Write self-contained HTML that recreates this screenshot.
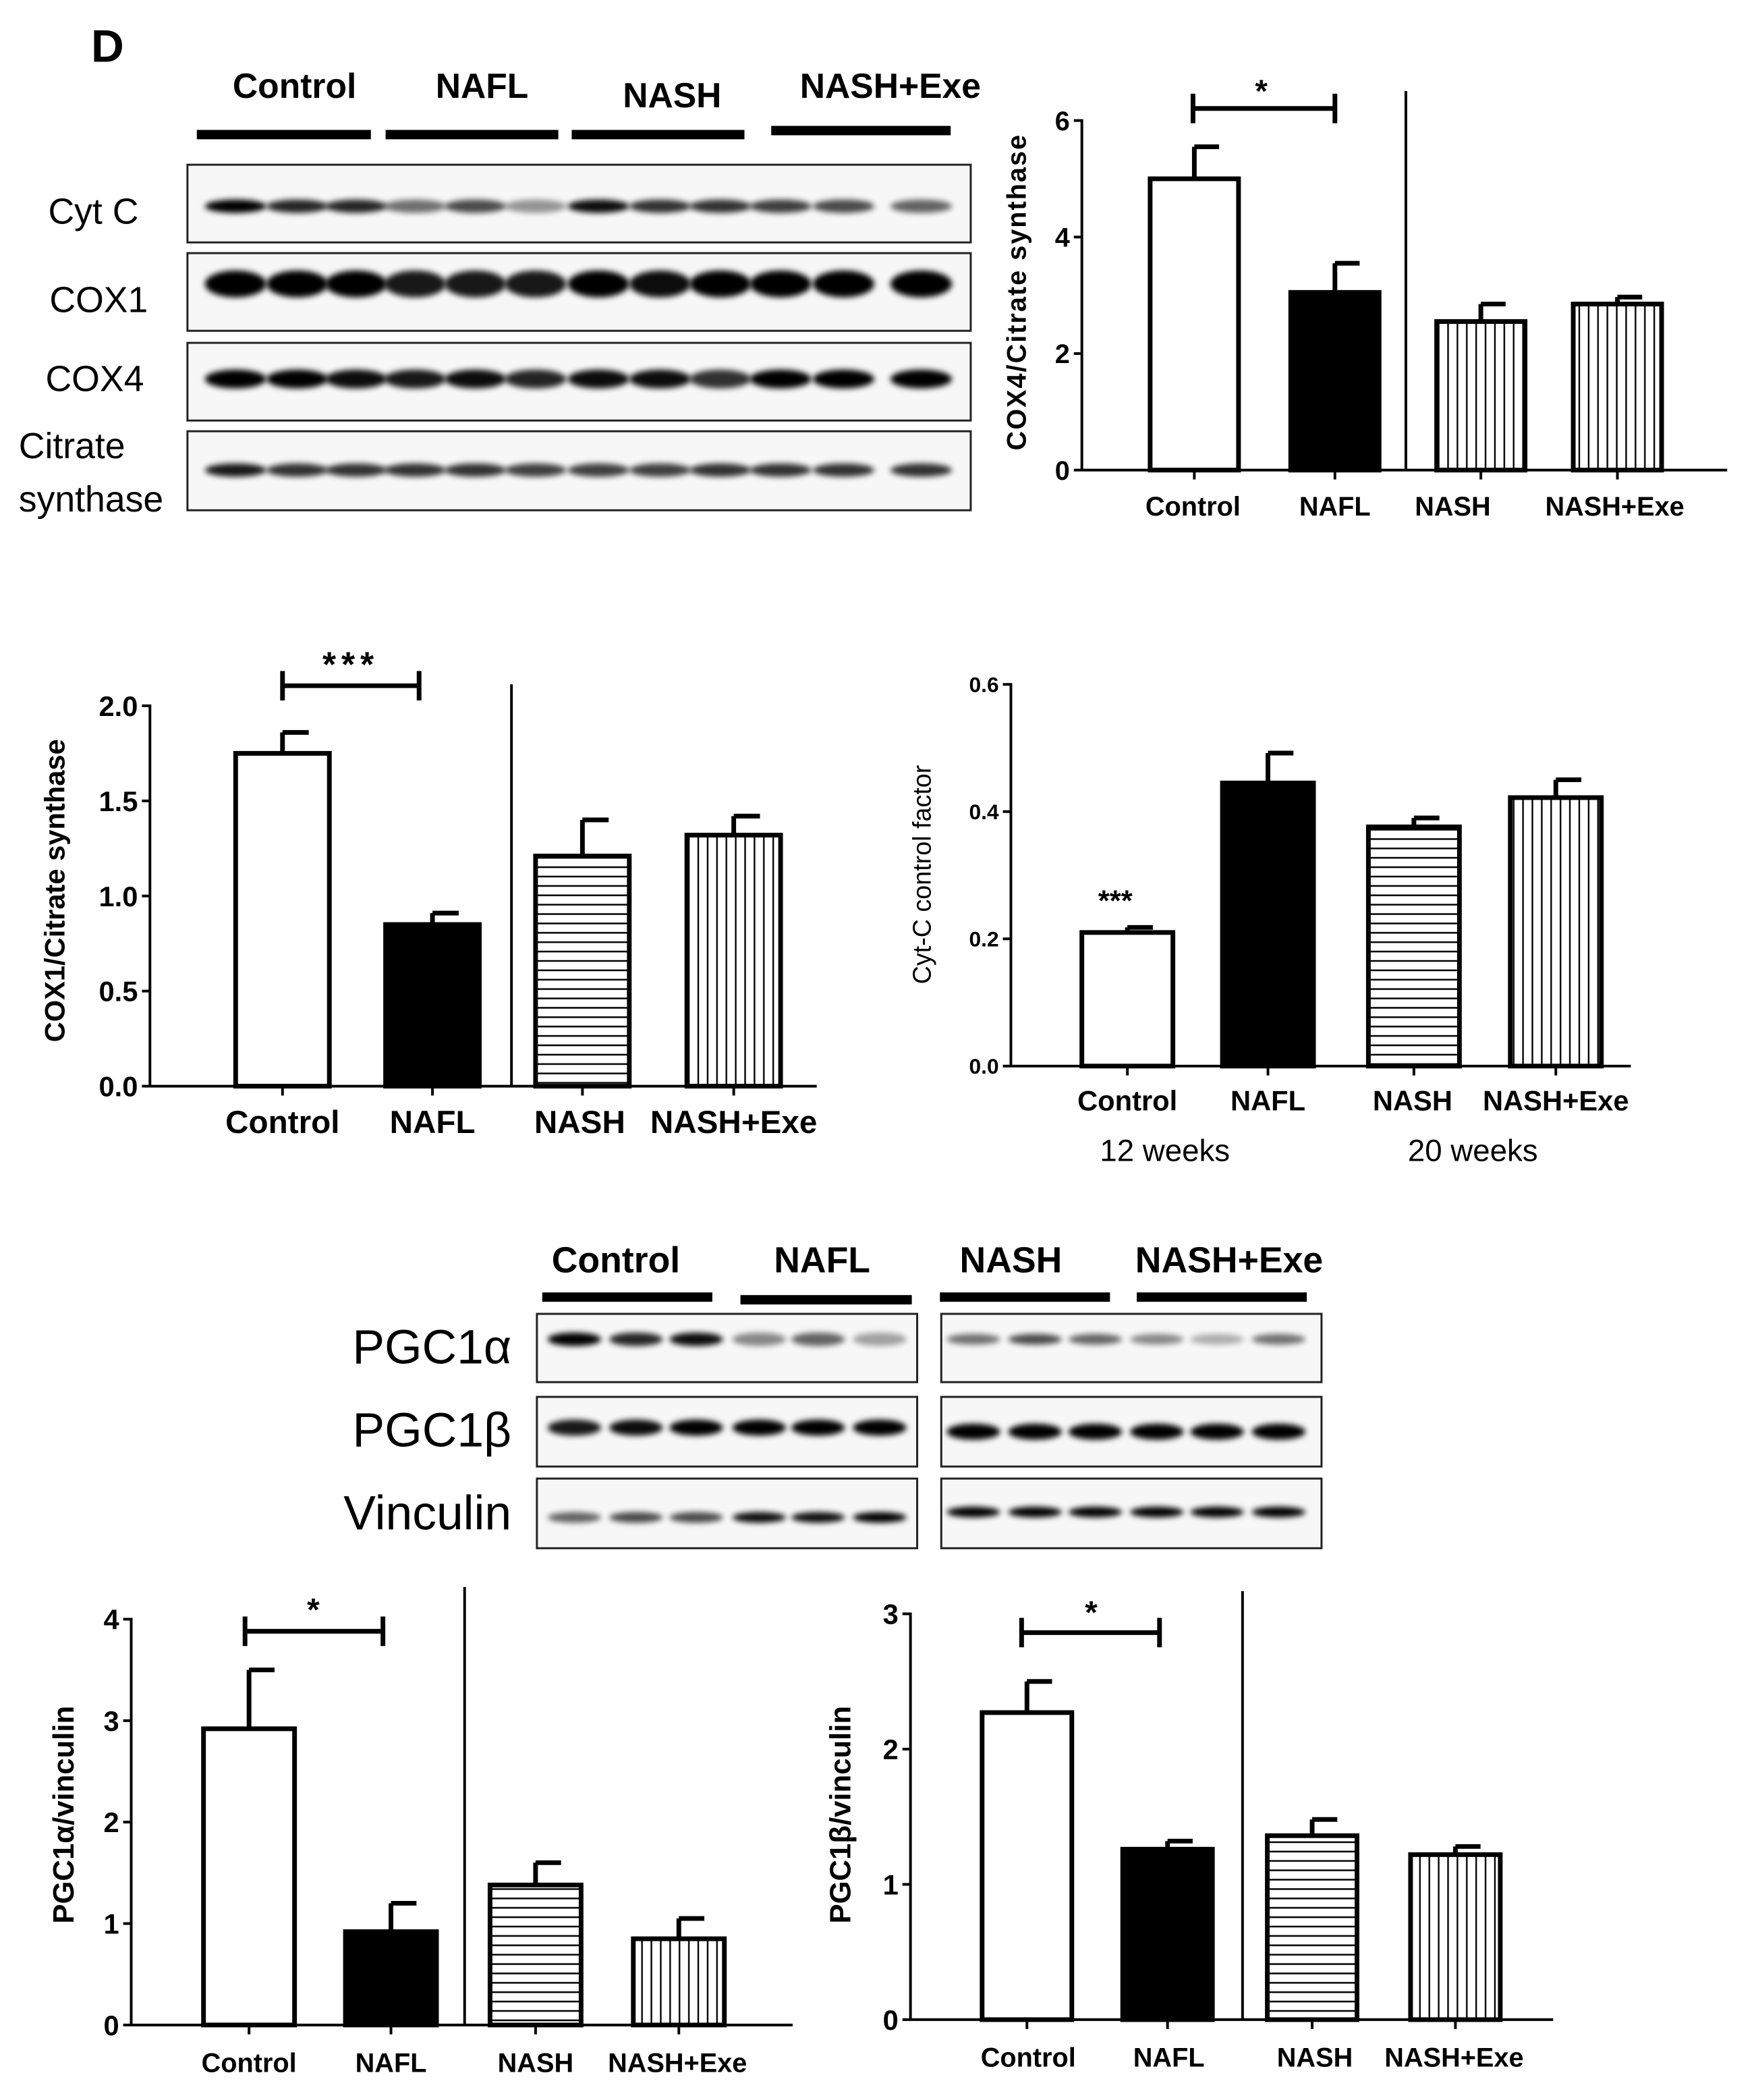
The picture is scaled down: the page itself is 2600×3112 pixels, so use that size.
<!DOCTYPE html>
<html><head><meta charset="utf-8"><style>
html,body{margin:0;padding:0;background:#fff;}
svg{display:block;}
text{font-family:"Liberation Sans",sans-serif;}
</style></head><body>
<svg id="fig" width="2600" height="3112" viewBox="0 0 1310 1568" preserveAspectRatio="none" xmlns="http://www.w3.org/2000/svg">
<defs>
<pattern id="vstripe" patternUnits="userSpaceOnUse" width="7" height="10"><rect width="7" height="10" fill="#fff"/><line x1="3.5" y1="0" x2="3.5" y2="10" stroke="#000" stroke-width="1.2"/></pattern>
<pattern id="hstripe" patternUnits="userSpaceOnUse" width="10" height="7"><rect width="10" height="7" fill="#fff"/><line x1="0" y1="3.5" x2="10" y2="3.5" stroke="#000" stroke-width="1.2"/></pattern>
<filter id="blur" x="-50%" y="-100%" width="200%" height="300%"><feGaussianBlur stdDeviation="2.2"/></filter>
</defs>
<text x="68" y="46" font-size="34" font-weight="bold">D</text>
<g id="blots"></g>
<g id="charts"></g>
</svg>
<script>
// ---------- chart data ----------
const categories = ["Control","NAFL","NASH","NASH+Exe"];
const cox4Values = [5.0, 3.05, 2.55, 2.85];
const cox4Errors = [0.55, 0.5, 0.3, 0.12];
const cox4Ticks = ["0","2","4","6"];
const cox1Values = [1.75, 0.85, 1.21, 1.32];
const cox1Errors = [0.11, 0.06, 0.19, 0.10];
const cox1Ticks = ["0.0","0.5","1.0","1.5","2.0"];
const cytcValues = [0.21, 0.445, 0.376, 0.422];
const cytcErrors = [0.008, 0.047, 0.014, 0.028];
const cytcTicks = ["0.0","0.2","0.4","0.6"];
const pgc1aValues = [2.92, 0.92, 1.38, 0.85];
const pgc1aErrors = [0.58, 0.28, 0.22, 0.2];
const pgc1aTicks = ["0","1","2","3","4"];
const pgc1bValues = [2.27, 1.26, 1.36, 1.22];
const pgc1bErrors = [0.23, 0.06, 0.12, 0.06];
const pgc1bTicks = ["0","1","2","3"];

const NS = "http://www.w3.org/2000/svg";
function mk(parent, tag, attrs, txt){
  const e = document.createElementNS(NS, tag);
  for (const k in attrs) e.setAttribute(k, attrs[k]);
  if (txt !== undefined) e.textContent = txt;
  parent.appendChild(e);
  return e;
}
const charts = document.getElementById('charts');

function drawChart(cfg, values, errors, ticks){
  const g = mk(charts, 'g', {});
  
  
  const tmin = parseFloat(ticks[0]), tmax = parseFloat(ticks[ticks.length-1]);
  const y = v => cfg.y0 + (cfg.y1 - cfg.y0) * (v - tmin) / (tmax - tmin);
  const ya = mk(g, 'line', {x1:cfg.ax, y1:y(tmax)-1, x2:cfg.ax, y2:cfg.y0, stroke:'#000','stroke-width':2});
  
  
  ticks.forEach(t => {
    const v = parseFloat(t);
    mk(g, 'line', {x1:cfg.ax-6, y1:y(v), x2:cfg.ax, y2:y(v), stroke:'#000','stroke-width':2});
    const tl = mk(g, 'text', {x:cfg.ax-9, y:y(v)+cfg.tfs*0.36, 'font-size':cfg.tfs, 'font-weight':'bold','text-anchor':'end'}, t);
    
    
  });
  const xa = mk(g, 'line', {x1:cfg.ax, y1:cfg.y0, x2:cfg.xend, y2:cfg.y0, stroke:'#000','stroke-width':2});
  
  
  mk(g, 'line', {x1:cfg.sep, y1:cfg.sepTop, x2:cfg.sep, y2:cfg.y0, stroke:'#000','stroke-width':2});
  const fills = ['#fff','#000', cfg.nashFill, 'url(#vstripe)'];
  values.forEach((v,i) => {
    const cx = cfg.bx[i], w = cfg.bw;
    const bar = mk(g, 'rect', {x:cx-w/2, y:y(v), width:w, height:cfg.y0-y(v), fill:fills[i], stroke:'#000','stroke-width':3.5});
    
    
    const ey = y(v + errors[i]);
    const eb = mk(g, 'path', {d:`M${cx} ${y(v)} V${ey} M${cx} ${ey} H${cx+w*0.28}`, stroke:'#000','stroke-width':3.5, fill:'none'});
    
    
    mk(g, 'line', {x1:cx, y1:cfg.y0, x2:cx, y2:cfg.y0+7, stroke:'#000','stroke-width':2});
    const xl = mk(g, 'text', {x:cfg.lx[i], y:cfg.ly, 'font-size':cfg.lfs, 'font-weight':cfg.lw,'text-anchor':'middle'}, categories[i]);
    
    
  });
  const yt = mk(g, 'text', {x:0, y:0, 'font-size':cfg.yfs, 'font-weight':cfg.yw||'bold','text-anchor':'middle', transform:`translate(${cfg.ytx},${cfg.yty}) rotate(-90)`, 'letter-spacing':cfg.yls||0}, cfg.title);
  
  
  if (cfg.br) {
    const b = cfg.br;
    const bk = mk(g, 'path', {d:`M${b.x1} ${b.y-11} V${b.y+11} M${b.x1} ${b.y} H${b.x2} M${b.x2} ${b.y-11} V${b.y+11}`, stroke:'#000','stroke-width':3.5, fill:'none'});
    
    
  }
  if (cfg.star) {
    const s = mk(g, 'text', {x:cfg.star.x, y:cfg.star.y, 'font-size':cfg.star.fs, 'font-weight':'bold','text-anchor':'middle','letter-spacing':cfg.star.ls||0}, cfg.star.t);
    
    
  }
  return g;
}

drawChart({name:'cox4-chart', ax:808, y0:351, y1:90, xend:1290, sep:1050, sepTop:68, bw:66,
  bx:[892,997,1106,1208], nashFill:'url(#vstripe)', lx:[891,997,1085,1206], ly:385, lfs:20, lw:'bold', tfs:20,
  title:'COX4/Citrate synthase', yfs:20, ytx:766, yty:218, yls:1,
  br:{x1:891,x2:997,y:81}, star:{x:942,y:76,t:'*',fs:24}}, cox4Values, cox4Errors, cox4Ticks);

drawChart({name:'cox1-chart', ax:112, y0:811, y1:527, xend:610, sep:382, sepTop:511, bw:70,
  bx:[211,323,435,548], nashFill:'url(#hstripe)', lx:[211,323,433,548], ly:846, lfs:24, lw:'bold', tfs:21,
  title:'COX1/Citrate synthase', yfs:21, ytx:48, yty:665,
  br:{x1:211,x2:313,y:512}, star:{x:262,y:505,t:'***',fs:26,ls:4}}, cox1Values, cox1Errors, cox1Ticks);

drawChart({name:'cytc-chart', ax:755, y0:796, y1:511, xend:1218, sep:-100, sepTop:796, bw:68,
  bx:[842,947,1056,1162], nashFill:'url(#hstripe)', lx:[842,947,1055,1162], ly:829, lfs:21, lw:'bold', tfs:16,
  title:'Cyt-C control factor', yfs:19, yw:'normal', ytx:695, yty:653,
  star:{x:833,y:680,t:'***',fs:22}}, cytcValues, cytcErrors, cytcTicks);

drawChart({name:'pgc1a-chart', ax:98, y0:1512, y1:1209, xend:592, sep:347, sepTop:1185, bw:68,
  bx:[186,292,400,507], nashFill:'url(#hstripe)', lx:[186,292,400,506], ly:1547, lfs:20, lw:'bold', tfs:21,
  title:'PGC1α/vinculin', yfs:22, ytx:55, yty:1355,
  br:{x1:183,x2:286,y:1218}, star:{x:234,y:1210,t:'*',fs:24}}, pgc1aValues, pgc1aErrors, pgc1aTicks);

drawChart({name:'pgc1b-chart', ax:680, y0:1508, y1:1205, xend:1160, sep:928, sepTop:1188, bw:67,
  bx:[767,872,980,1087], nashFill:'url(#hstripe)', lx:[768,873,982,1086], ly:1543, lfs:20, lw:'bold', tfs:21,
  title:'PGC1β/vinculin', yfs:22, ytx:635, yty:1355,
  br:{x1:763,x2:866,y:1219}, star:{x:815,y:1212,t:'*',fs:24}}, pgc1bValues, pgc1bErrors, pgc1bTicks);

[[870,'12 weeks'],[1100,'20 weeks']].forEach(([x,t]) => {
  const w = mk(charts, 'text', {x:x, y:867, 'font-size':23, 'text-anchor':'middle'}, t);
  
  
});

// ---------- blots ----------
const blots = document.getElementById('blots');
function header(list, fs, bars){
  list.forEach(([x,y,t]) => {
    const h = mk(blots, 'text', {x:x, y:y, 'font-size':fs, 'font-weight':'bold','text-anchor':'middle'}, t);
    
    
  });
  bars.forEach(([x1,x2,yy]) => {
    const r = mk(blots, 'rect', {x:x1, y:yy-3, width:x2-x1, height:7, fill:'#000'});
    
    
  });
}
header([[220,73,'Control'],[360,73,'NAFL'],[502,80,'NASH'],[665,73,'NASH+Exe']], 26,
  [[147,277,100],[288,417,100],[427,556,100],[576,710,97]]);
header([[460,950,'Control'],[614,950,'NAFL'],[755,950,'NASH'],[918,950,'NASH+Exe']], 27,
  [[405,532,968],[553,681,970],[702,829,968],[849,976,968]]);

function blotRow(x1, x2, y1, y2, lanes, bandY, bandH, intens, name, rx){
  const g = mk(blots, 'g', {});
  
  
  mk(g, 'rect', {x:x1, y:y1, width:x2-x1, height:y2-y1, fill:'#f7f7f7', stroke:'#222','stroke-width':1.5});
  lanes.forEach((cx,i) => {
    mk(g, 'ellipse', {cx:cx, cy:bandY, rx:rx||20, ry:bandH, fill:'#000', opacity:intens[i], filter:'url(#blur)'});
  });
}
const topLanes = [176,222,266,310,355,400,447,493,538,583,630,688];
const rowLabels = [['Cyt C',36,167],['COX1',37,233],['COX4',34,292],['Citrate',14,342],['synthase',14,382]];
rowLabels.forEach(([t,x,y]) => {
  const l = mk(blots, 'text', {x:x, y:y, 'font-size':27}, t);
  
  
});
blotRow(140,725,123,181, topLanes, 154, 5, [1,.85,.85,.55,.7,.4,.95,.8,.8,.75,.7,.6], 'cyt-c-blot', 23);
blotRow(140,725,189,247, topLanes, 212, 10, [1,1,1,.9,.9,.9,1,.95,1,1,1,1], 'cox1-blot', 23);
blotRow(140,725,256,314, topLanes, 283, 7, [1,1,.95,.9,.95,.85,.95,.95,.8,1,1,1], 'cox4-blot', 23);
blotRow(140,725,322,381, topLanes, 351, 5, [.9,.8,.8,.8,.8,.75,.75,.75,.8,.8,.8,.8], 'citrate-synthase-blot', 23);

const lLanes = [429,475,520,567,611,657], rLanes = [727,773,818,864,909,955];
[['PGC1α',1018],['PGC1β',1080],['Vinculin',1142]].forEach(([t,y]) => {
  const l = mk(blots, 'text', {x:382, y:y, 'font-size':36, 'text-anchor':'end'}, t);
  
  
});
blotRow(401,685,981,1032, lLanes, 1000, 5, [1,.85,.95,.45,.6,.35], 'pgc1a-blot-left');
blotRow(703,987,981,1032, rLanes, 1000, 4, [.55,.7,.6,.45,.3,.55], 'pgc1a-blot-right');
blotRow(401,685,1043,1095, lLanes, 1066, 6, [.9,.95,1,1,1,1], 'pgc1b-blot-left');
blotRow(703,987,1043,1095, rLanes, 1069, 6, [1,1,1,1,1,1], 'pgc1b-blot-right');
blotRow(401,685,1104,1156, lLanes, 1133, 4, [.6,.7,.7,.95,.95,1], 'vinculin-blot-left');
blotRow(703,987,1104,1156, rLanes, 1129, 4, [1,1,1,1,1,1], 'vinculin-blot-right');
</script>
</body></html>
